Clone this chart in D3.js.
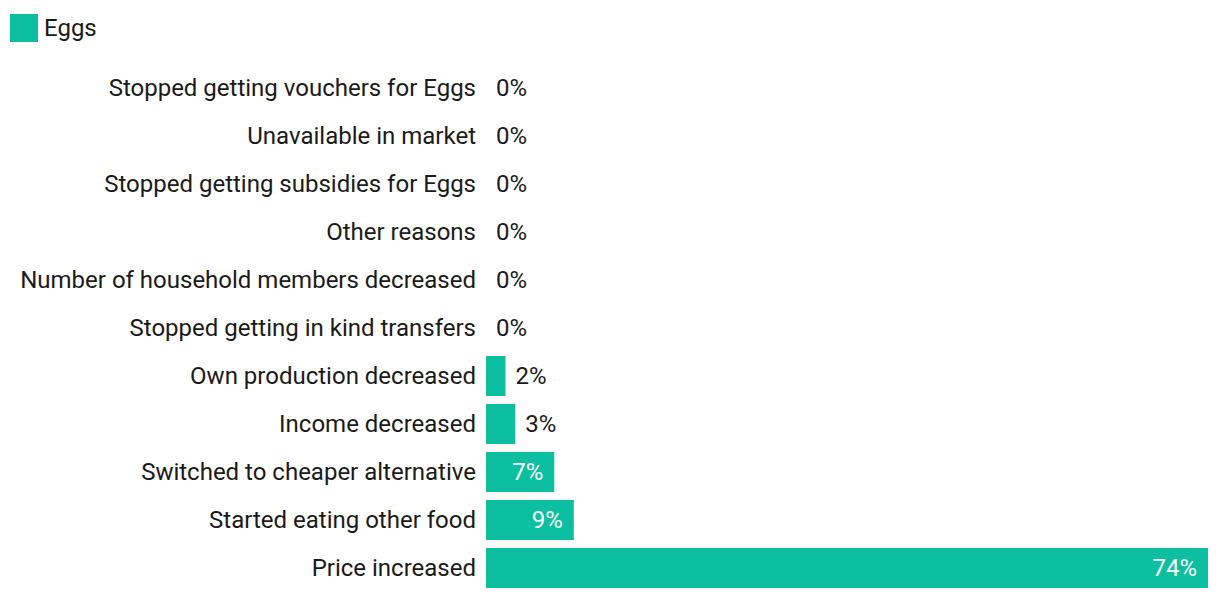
<!DOCTYPE html>
<html>
<head>
<meta charset="utf-8">
<script src="https://cdn.jsdelivr.net/npm/d3@7"></script>
<style>
  body { margin: 0; background: #fff; }
  svg { font-family: Roboto, "Noto Sans", sans-serif; }
</style>
</head>
<body>
<svg id="chart" width="1220" height="600"></svg>
<script>
// data
const categories = [
  "Stopped getting vouchers for Eggs",
  "Unavailable in market",
  "Stopped getting subsidies for Eggs",
  "Other reasons",
  "Number of household members decreased",
  "Stopped getting in kind transfers",
  "Own production decreased",
  "Income decreased",
  "Switched to cheaper alternative",
  "Started eating other food",
  "Price increased"
];
const values = [0, 0, 0, 0, 0, 0, 2, 3, 7, 9, 74];
const seriesName = "Eggs";

const teal = "#0bbfa0";
const textColor = "#1a1a1a";

const svg = d3.select("#chart");

// legend
svg.append("rect")
  .attr("x", 10).attr("y", 14)
  .attr("width", 28).attr("height", 28)
  .attr("fill", teal);
svg.append("text")
  .attr("x", 44).attr("y", 28)
  .attr("dominant-baseline", "central")
  .attr("font-size", 24)
  .attr("fill", textColor)
  .text(seriesName);

// plot area
const plotLeft = 486, plotRight = 1208;
const plotTop = 64, plotBottom = 592;

const x = d3.scaleLinear().domain([0, d3.max(values)]).range([plotLeft, plotRight]);
const y = d3.scaleBand().domain(categories).range([plotTop, plotBottom]).paddingInner(8 / 48).paddingOuter(4 / 48);

const rows = svg.append("g").selectAll("g")
  .data(categories.map((c, i) => ({ cat: c, val: values[i] })))
  .enter().append("g");

rows.append("rect")
  .attr("x", x(0))
  .attr("y", d => y(d.cat))
  .attr("width", d => x(d.val) - x(0))
  .attr("height", y.bandwidth())
  .attr("fill", teal);

// category labels
rows.append("text")
  .attr("x", plotLeft - 10)
  .attr("y", d => y(d.cat) + y.bandwidth() / 2)
  .attr("text-anchor", "end")
  .attr("dominant-baseline", "central")
  .attr("font-size", 24)
  .attr("fill", textColor)
  .text(d => d.cat);

// value labels: inside for wide bars, outside for narrow
const inside = d => x(d.val) - x(0) > 60;
rows.append("text")
  .attr("x", d => inside(d) ? x(d.val) - 11 : x(d.val) + 10)
  .attr("y", d => y(d.cat) + y.bandwidth() / 2)
  .attr("text-anchor", d => inside(d) ? "end" : "start")
  .attr("dominant-baseline", "central")
  .attr("font-size", 24)
  .attr("fill", d => inside(d) ? "#fff" : textColor)
  .text(d => d.val + "%");
</script>
</body>
</html>
